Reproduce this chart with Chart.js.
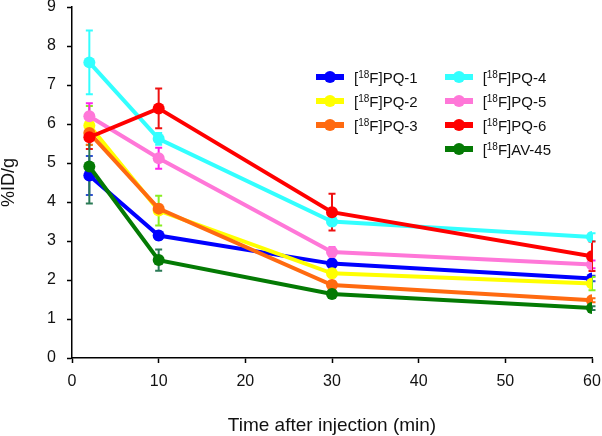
<!DOCTYPE html>
<html>
<head>
<meta charset="utf-8">
<script src="https://cdn.jsdelivr.net/npm/chart.js@4.4.1/dist/chart.umd.min.js"></script>
<style>
  html, body { margin: 0; padding: 0; background: #fff; }
  .wrap { position: relative; width: 602px; height: 436px; }
  #legend {
    position: absolute; left: 316px; top: 65px;
    display: grid; grid-template-rows: repeat(4, 24px); grid-auto-flow: column;
    column-gap: 27px;
    font-family: "Liberation Sans", Arial, sans-serif; font-size: 15px; color: #111;
  }
  .item { display: flex; align-items: center; height: 24px; }
  .mark { position: relative; width: 28px; height: 12px; margin-right: 10px; }
  .mark .ln { position: absolute; left: 0; top: 3px; width: 28px; height: 6px; }
  .mark .dot { position: absolute; left: 8px; top: 0; width: 12px; height: 12px; border-radius: 50%; }
  sup { font-size: 10px; vertical-align: 5px; line-height: 0; }
</style>
</head>
<body>
<div class="wrap">
  <canvas id="chart" width="602" height="436"></canvas>
  <div id="legend"></div>
</div>
<script>
const times = [2, 10, 30, 60];
const names = ['PQ-1', 'PQ-2', 'PQ-3', 'PQ-4', 'PQ-5', 'PQ-6', 'AV-45'];
const colors = ['#0000ff', '#ffff00', '#ff6a10', '#33ffff', '#ff77d8', '#ff0000', '#047a04'];
const errColors = ['#3050d0', '#88ee22', '#ff6a10', '#33ffff', '#ff22ee', '#ee1111', '#2a7a55'];

const pq1 = [4.68, 3.14, 2.42, 2.04];
const pq2 = [5.96, 3.78, 2.17, 1.91];
const pq3 = [5.77, 3.83, 1.87, 1.48];
const pq4 = [7.58, 5.62, 3.50, 3.10];
const pq5 = [6.20, 5.12, 2.72, 2.40];
const pq6 = [5.66, 6.40, 3.74, 2.61];
const av45 = [4.91, 2.51, 1.64, 1.28];

const pq1Err = [0.50, 0.10, 0.10, 0.07];
const pq2Err = [0.50, 0.38, 0.10, 0.17];
const pq3Err = [0.30, 0.10, 0.10, 0.05];
const pq4Err = [0.82, 0.15, 0.10, 0.10];
const pq5Err = [0.33, 0.27, 0.12, 0.10];
const pq6Err = [0.30, 0.51, 0.47, 0.38];
const av45Err = [0.95, 0.27, 0.08, 0.05];

const values = [pq1, pq2, pq3, pq4, pq5, pq6, av45];
const errors = [pq1Err, pq2Err, pq3Err, pq4Err, pq5Err, pq6Err, av45Err];

const xTicks = [0, 10, 20, 30, 40, 50, 60];
const yTicks = [0, 1, 2, 3, 4, 5, 6, 7, 8, 9];

const fontFamily = '"Liberation Sans", Arial, sans-serif';

// error bars drawn under the lines
const errorBars = {
  id: 'errorBars',
  beforeDatasetsDraw(chart) {
    const ctx = chart.ctx;
    const y = chart.scales.y;
    chart.data.datasets.forEach((ds, i) => {
      const meta = chart.getDatasetMeta(i);
      ctx.save();
      ctx.strokeStyle = errColors[i];
      ctx.lineWidth = 2;
      meta.data.forEach((pt, j) => {
        const e = errors[i][j];
        const top = y.getPixelForValue(values[i][j] + e);
        const bot = y.getPixelForValue(values[i][j] - e);
        ctx.beginPath();
        ctx.moveTo(pt.x, top); ctx.lineTo(pt.x, bot);
        ctx.moveTo(pt.x - 3.5, top); ctx.lineTo(pt.x + 3.5, top);
        ctx.moveTo(pt.x - 3.5, bot); ctx.lineTo(pt.x + 3.5, bot);
        ctx.stroke();
      });
      ctx.restore();
    });
  }
};

// later series drawn on top, like the original
const datasets = names.map((n, i) => ({
  label: '[18F]' + n,
  data: times.map((t, j) => ({ x: t, y: values[i][j] })),
  order: -i,
  borderColor: colors[i],
  backgroundColor: colors[i],
  borderWidth: 4,
  pointRadius: 6,
  pointBorderWidth: 0,
  showLine: true,
  tension: 0
}));

new Chart(document.getElementById('chart'), {
  type: 'scatter',
  data: { datasets: datasets },
  options: {
    responsive: false,
    animation: false,
    layout: { padding: { left: 0, right: 10, top: 7, bottom: 0 } },
    plugins: { legend: { display: false }, tooltip: { enabled: false } },
    scales: {
      x: {
        type: 'linear', min: 0, max: 60,
        afterBuildTicks: (s) => { s.ticks = xTicks.map(v => ({ value: v })); },
        afterFit: (s) => { s.height = 78; s.paddingLeft = 0; s.paddingRight = 0; },
        grid: { drawOnChartArea: false, tickLength: 5, tickColor: '#000', tickWidth: 1.5 },
        border: { color: '#000', width: 1.5 },
        ticks: { color: '#111', font: { family: fontFamily, size: 16 }, padding: 9, maxRotation: 0 },
        title: { display: true, text: 'Time after injection (min)', color: '#111',
                 font: { family: fontFamily, size: 19 }, padding: { bottom: -1 } }
      },
      y: {
        type: 'linear', min: 0, max: 9,
        afterBuildTicks: (s) => { s.ticks = yTicks.map(v => ({ value: v })); },
        afterFit: (s) => { s.width = 72; s.paddingTop = 0; s.paddingBottom = 0; },
        grid: { drawOnChartArea: false, tickLength: 5, tickColor: '#000', tickWidth: 1.5 },
        border: { color: '#000', width: 1.5 },
        ticks: { color: '#111', font: { family: fontFamily, size: 16 }, padding: 11 },
        title: { display: true, text: '%ID/g', color: '#111',
                 font: { family: fontFamily, size: 18 }, padding: { top: -2 } }
      }
    }
  },
  plugins: [errorBars]
});

// legend with superscript isotope numbers
const legend = document.getElementById('legend');
names.forEach((n, i) => {
  const item = document.createElement('div');
  item.className = 'item';
  if (i === 3) item.style.gridRow = '1';
  item.innerHTML = '<span class="mark"><span class="ln" style="background:' + colors[i] +
    '"></span><span class="dot" style="background:' + colors[i] + '"></span></span>' +
    '<span>[<sup>18</sup>F]' + n + '</span>';
  legend.appendChild(item);
});
</script>
</body>
</html>
